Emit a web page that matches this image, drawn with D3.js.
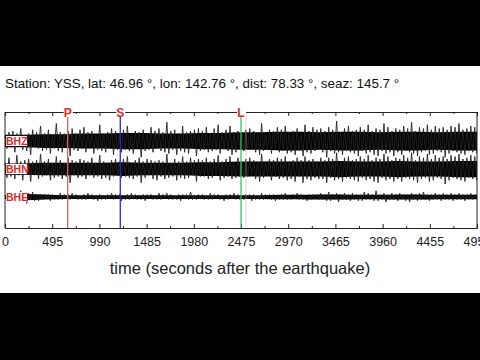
<!DOCTYPE html>
<html><head><meta charset="utf-8">
<script src="https://cdn.jsdelivr.net/npm/d3@7"></script>
<style>html,body{margin:0;padding:0;background:#000;}svg{display:block;}</style>
</head><body>
<svg id="chart" width="480" height="360"></svg>
<script>
const title = "Station: YSS, lat: 46.96 \u00b0, lon: 142.76 \u00b0, dist: 78.33 \u00b0, seaz: 145.7 \u00b0";
const xLabel = "time (seconds after the earthquake)";
const tickValues = [0, 495, 990, 1485, 1980, 2475, 2970, 3465, 3960, 4455, 4950];
const minorTicks = [247.5, 742.5, 1237.5, 1732.5, 2227.5, 2722.5, 3217.5, 3712.5, 4207.5, 4702.5];
const channels = ["BHZ", "BHN", "BHE"];
const phaseNames = ["P", "S", "L"];
const phaseTimes = [657, 1209, 2475];
const phaseColors = ["#d86060", "#2a2ac8", "#3cc060"];
const extraMarkTime = [2527];
const sampleStep = 20.7;  // seconds between plotted peak samples
const coreStep = 206.25;  // seconds between core-envelope samples

// dense core envelope (half-width) per channel
const bhzCore = [5,5,5.5,5.5,6,6,6.5,6.5,6,6,6.5,6.5,7,7,7.5,7.5,7,7.5,7.5,7,7.5,7.5,7,7.5,7.5];
const bhnCore = [4.5,4.5,5,5,5,5,5.5,5,5,5,5.5,5.5,6,6,6,6,6,6.5,6,6,6.5,6,6,6.5,6.5];
const beheCore = [1.5,2.5,2,1.5,1.5,1.5,1.5,1.5,1.5,1.5,1.5,1.5,1.5,1.5,1.8,1.8,2,2,1.8,1.8,2,2,1.8,1.8,1.8];

// peak excursions
const bhz = [
 4,-6,7,-5,8,-9,6,-4,10,-7,5,-8,6,-11,9,-5,7,-6,12,-8,
 6,-7,9,-10,5,-6,14,-8,7,-9,6,-5,8,-12,10,-7,6,-8,9,-6,
 11,-9,7,-6,8,-10,5,-7,13,-8,6,-9,7,-6,10,-11,8,-7,6,-9,
 9,-7,12,-8,6,-10,8,-6,7,-13,9,-8,6,-7,11,-9,8,-6,10,-8,
 7,-9,15,-10,8,-7,9,-11,6,-8,12,-9,7,-10,8,-6,9,-12,10,-8,
 8,-7,11,-9,6,-8,10,-7,13,-10,7,-6,9,-8,12,-11,7,-9,8,-6,
 6,-8,9,-7,10,-6,8,-9,7,-11,14,-8,6,-7,9,-10,8,-6,11,-9,
 9,-8,12,-10,7,-9,8,-11,10,-7,6,-12,13,-9,8,-10,11,-8,9,-7,
 10,-9,8,-13,11,-8,9,-10,16,-9,7,-11,10,-8,12,-9,8,-10,9,-12,
 11,-8,9,-10,13,-9,8,-11,10,-12,9,-8,14,-10,11,-9,8,-12,10,-9,
 9,-11,12,-8,10,-9,15,-10,8,-12,11,-9,10,-8,13,-11,9,-10,12,-8,
 10,-9,11,-13,9,-10,12,-8,11,-9,14,-10,9,-11,10,-8,12,-9,11,-10];
const bhn = [
 5,-7,9,-6,4,-8,11,-5,6,-9,7,-4,8,-10,6,-5,7,-8,12,-6,
 6,-5,8,-9,5,-7,10,-6,7,-8,5,-6,9,-11,7,-5,6,-7,8,-6,
 7,-8,6,-5,9,-7,5,-6,11,-8,6,-7,5,-9,7,-6,8,-5,6,-7,
 8,-6,10,-7,5,-8,7,-6,9,-11,6,-7,8,-5,7,-8,6,-9,7,-6,
 6,-8,12,-7,5,-6,8,-9,6,-7,10,-8,6,-7,9,-5,7,-10,8,-6,
 7,-6,9,-8,6,-7,8,-5,11,-9,6,-7,8,-6,10,-8,5,-7,9,-6,
 5,-7,8,-6,9,-5,7,-8,6,-10,12,-7,6,-5,8,-9,7,-6,9,-8,
 8,-7,10,-9,6,-8,7,-10,9,-6,7,-11,10,-8,7,-9,8,-7,6,-8,
 9,-8,7,-11,9,-7,8,-9,13,-8,6,-10,9,-7,10,-8,7,-9,8,-10,
 10,-7,8,-9,11,-8,7,-10,9,-11,8,-7,12,-9,10,-8,7,-10,9,-8,
 8,-10,11,-7,9,-8,13,-9,7,-11,10,-8,9,-7,12,-10,8,-9,11,-7,
 9,-8,10,-12,8,-9,11,-7,10,-8,12,-9,8,-10,9,-7,11,-8,10,-9];
const bhe = [
 1,-2,1,-1,2,-1,3,-4,5,-3,4,-5,3,-2,4,-3,2,-3,2,-2,
 2,-1,2,-3,2,-2,1,-2,3,-2,2,-1,2,-2,3,-1,2,-2,1,-2,
 2,-2,3,-1,2,-2,1,-3,2,-2,1,-2,2,-1,3,-2,2,-1,2,-3,
 1,-2,2,-2,3,-1,2,-2,1,-2,2,-3,2,-1,2,-2,1,-2,3,-2,
 2,-1,3,-2,2,-2,1,-2,2,-3,2,-1,2,-2,4,-2,1,-2,2,-1,
 2,-2,1,-2,3,-2,2,-1,2,-2,1,-3,2,-2,2,-1,3,-2,2,-2,
 1,-2,2,-1,2,-3,2,-2,1,-2,3,-2,2,-1,2,-2,2,-3,1,-2,
 2,-2,3,-2,1,-2,2,-1,3,-2,2,-2,1,-3,2,-2,2,-1,2,-2,
 3,-2,2,-3,4,-3,2,-2,3,-4,2,-2,3,-2,2,-3,3,-2,2,-3,
 2,-3,4,-2,3,-2,2,-3,5,-3,2,-2,3,-4,2,-2,3,-2,2,-3,
 3,-2,2,-3,2,-4,3,-2,2,-3,3,-2,4,-2,2,-3,2,-2,3,-2,
 2,-3,3,-2,2,-2,3,-3,2,-2,3,-2,2,-3,2,-2,3,-2,2,-2];
const traces = [bhz, bhn, bhe];
const cores = [bhzCore, bhnCore, beheCore];

const svg = d3.select("#chart");
const font = "'Liberation Sans', Arial, Helvetica, sans-serif";
svg.append("rect").attr("x",0).attr("y",66).attr("width",480).attr("height",227).attr("fill","#fff");

const yTop = 112, yBottom = 228;
const x = d3.scaleLinear().domain([0,4950]).range([5,477]);
const band = d3.scaleBand().domain(channels).range([127,211]);
const amp = d3.scaleLinear().domain([-16,16]).range([20,-20]);

svg.append("text").attr("x",5).attr("y",88).attr("font-family",font).attr("font-size",13.4)
  .attr("fill","#111").text(title);

// traces
channels.forEach((ch,k)=>{
  const cy = band(ch) + band.bandwidth()/2;
  const area = d3.area().x((d,i)=>x(i*coreStep)).y0(d=>cy+amp(d)).y1(d=>cy+amp(-d)).curve(d3.curveMonotoneX);
  svg.append("path").datum(cores[k]).attr("d",area).attr("fill","#000");
  const line = d3.line().x((d,i)=>x(i*sampleStep)).y(d=>cy+amp(d));
  svg.append("path").datum(traces[k]).attr("d",line).attr("fill","none")
    .attr("stroke","#222").attr("stroke-width",0.9);
});

// frame
svg.append("line").attr("x1",x(0)).attr("x2",x(0)).attr("y1",yTop).attr("y2",yBottom).attr("stroke","#222");
svg.append("line").attr("x1",x(4950)).attr("x2",x(4950)).attr("y1",yTop).attr("y2",yBottom).attr("stroke","#222");

const axTop = svg.append("g").attr("transform",`translate(0,${yTop})`)
  .call(d3.axisTop(x).tickValues(tickValues).tickSize(-4).tickFormat(""));
const axBot = svg.append("g").attr("transform",`translate(0,${yBottom})`)
  .call(d3.axisBottom(x).tickValues(tickValues).tickSize(-4).tickPadding(9).tickFormat(d3.format("d")));
[axTop, axBot].forEach(a=>{ a.select(".domain").attr("stroke","#222"); a.selectAll(".tick line").attr("stroke","#222"); });
axBot.selectAll("text").attr("font-family",font).attr("font-size",12.5).attr("fill","#222");
svg.append("g").attr("transform",`translate(0,${yTop})`).call(d3.axisTop(x).tickValues(minorTicks).tickSize(-2).tickFormat(""))
  .call(g=>g.select(".domain").remove()).selectAll("line").attr("stroke","#222");
svg.append("g").attr("transform",`translate(0,${yBottom})`).call(d3.axisBottom(x).tickValues(minorTicks).tickSize(-2).tickFormat(""))
  .call(g=>g.select(".domain").remove()).selectAll("line").attr("stroke","#222");

// phase lines
svg.append("line").attr("x1",x(extraMarkTime[0])).attr("x2",x(extraMarkTime[0])).attr("y1",yTop).attr("y2",yBottom)
  .attr("stroke","#f0a0a0").attr("stroke-width",1).attr("opacity",0.5);
phaseTimes.forEach((t,i)=>{
  svg.append("line").attr("x1",x(t)).attr("x2",x(t)).attr("y1",yTop+4).attr("y2",yBottom)
    .attr("stroke",phaseColors[i]).attr("stroke-width",1.3);
  svg.append("rect").attr("x",x(t)-4).attr("y",yTop-4).attr("width",9).attr("height",9).attr("fill","#fff");
  svg.append("text").attr("x",x(t)).attr("y",yTop+4.5).attr("text-anchor","middle")
    .attr("font-family",font).attr("font-size",12).attr("font-weight","bold").attr("fill","#e02828").text(phaseNames[i]);
});

// channel labels
channels.forEach(ch=>{
  const cy = band(ch) + band.bandwidth()/2;
  svg.append("rect").attr("x",6).attr("y",cy-5).attr("width",21).attr("height",10).attr("fill","#fff");
  svg.append("text").attr("x",6).attr("y",cy+4).attr("font-family",font).attr("font-size",10.5)
    .attr("font-weight","bold").attr("fill","#e02828").text(ch);
});

svg.append("text").attr("x",240).attr("y",274).attr("text-anchor","middle").attr("font-family",font)
  .attr("font-size",16.5).attr("fill","#222").text(xLabel);
</script>
</body></html>
